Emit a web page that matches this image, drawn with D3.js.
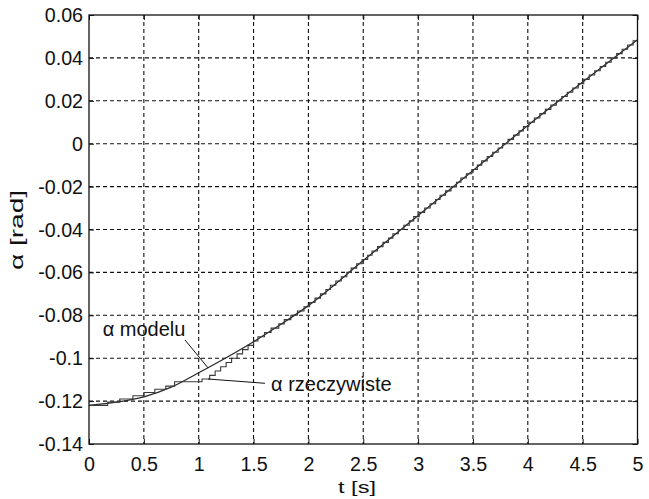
<!DOCTYPE html>
<html>
<head>
<meta charset="utf-8">
<script src="https://cdn.jsdelivr.net/npm/d3@7"></script>
<style>
  html, body { margin: 0; padding: 0; background: #fff; }
  svg { display: block; font-family: "Liberation Sans", Arial, Helvetica, sans-serif; }
</style>
</head>
<body>
<svg id="chart" width="649" height="499"></svg>
<script>
// ---- data ----
const xTicks = [0, 0.5, 1, 1.5, 2, 2.5, 3, 3.5, 4, 4.5, 5];
const xTickLabels = ["0", "0.5", "1", "1.5", "2", "2.5", "3", "3.5", "4", "4.5", "5"];
const yTicks = [0.06, 0.04, 0.02, 0, -0.02, -0.04, -0.06, -0.08, -0.1, -0.12, -0.14];
const yTickLabels = ["0.06", "0.04", "0.02", "0", "-0.02", "-0.04", "-0.06", "-0.08", "-0.1", "-0.12", "-0.14"];

// alpha modelu (smooth model curve)
const tModel = [0, 0.25, 0.5, 0.75, 1.0, 1.25, 1.5, 1.75, 2.0, 2.5, 3.0, 3.5, 4.0, 4.5, 5.0];
const alphaModel = [-0.1220, -0.1205, -0.1180, -0.1135, -0.1068, -0.0998, -0.0923, -0.0842, -0.0755,
                    -0.0545, -0.0335, -0.0125, 0.0085, 0.0288, 0.0485];

// alpha rzeczywiste (measured, staircase) — step times and levels
const tReal = [
  0, 0.17, 0.28, 0.40, 0.50, 0.60, 0.70, 0.78, 1.03, 1.10,
  1.15, 1.20, 1.25, 1.30, 1.35, 1.40, 1.45, 1.50, 1.54, 1.60,
  1.66, 1.73, 1.78, 1.84, 1.90, 1.96, 2.01, 2.06, 2.11, 2.16,
  2.20, 2.25, 2.30, 2.35, 2.39, 2.44, 2.49, 2.54, 2.58, 2.63,
  2.68, 2.73, 2.77, 2.82, 2.87, 2.92, 2.96, 3.01, 3.06, 3.11,
  3.16, 3.20, 3.25, 3.30, 3.35, 3.39, 3.44, 3.49, 3.54, 3.58,
  3.63, 3.68, 3.73, 3.77, 3.82, 3.87, 3.92, 3.96, 4.01, 4.06,
  4.11, 4.16, 4.21, 4.26, 4.31, 4.36, 4.41, 4.46, 4.51, 4.56,
  4.61, 4.66, 4.71, 4.76, 4.81, 4.86, 4.91, 4.96, 5.00
];
const alphaReal = [
  -0.1220, -0.1205, -0.1190, -0.1175, -0.1160, -0.1145, -0.1130, -0.1110, -0.1097, -0.1080,
  -0.106, -0.104, -0.102, -0.100, -0.098, -0.096, -0.094, -0.092, -0.090, -0.088,
  -0.086, -0.084, -0.082, -0.080, -0.078, -0.076, -0.074, -0.072, -0.070, -0.068,
  -0.066, -0.064, -0.062, -0.060, -0.058, -0.056, -0.054, -0.052, -0.050, -0.048,
  -0.046, -0.044, -0.042, -0.040, -0.038, -0.036, -0.034, -0.032, -0.030, -0.028,
  -0.026, -0.024, -0.022, -0.020, -0.018, -0.016, -0.014, -0.012, -0.010, -0.008,
  -0.006, -0.004, -0.002, 0.000, 0.002, 0.004, 0.006, 0.008, 0.010, 0.012,
  0.014, 0.016, 0.018, 0.020, 0.022, 0.024, 0.026, 0.028, 0.030, 0.032,
  0.034, 0.036, 0.038, 0.040, 0.042, 0.044, 0.046, 0.048, 0.048
];

// annotation texts and anchor points (data units)
const annoTexts = ["α modelu", "α rzeczywiste"];
const annoTextT = [0.125, 1.66];
const annoTextV = [-0.0897, -0.1153];
const annoLineFromT = [0.875, 1.085];
const annoLineFromV = [-0.0915, -0.1097];
const annoLineToT = [1.085, 1.604];
const annoLineToV = [-0.1045, -0.1117];

const xLabel = "t [s]";
const yLabel = "α [rad]";

// ---- layout ----
const svg = d3.select("#chart");
const W = 649, H = 499;
const L = 89, R = 637.5, T = 15, B = 444;
const x = d3.scaleLinear().domain([0, 5]).range([L, R]);
const y = d3.scaleLinear().domain([-0.14, 0.06]).range([B, T]);
const FONT = '"Liberation Sans", Arial, Helvetica, sans-serif';

svg.append("rect").attr("width", W).attr("height", H).attr("fill", "#fff");

// grid (dashed)
const grid = svg.append("g").attr("stroke", "#111").attr("stroke-width", 1.1)
  .attr("stroke-dasharray", "4,3").attr("fill", "none");
xTicks.filter(d => d > 0 && d < 5).forEach(d => {
  grid.append("line").attr("x1", x(d)).attr("x2", x(d)).attr("y1", T).attr("y2", B);
});
yTicks.filter(d => d > -0.14 && d < 0.06).forEach(d => {
  grid.append("line").attr("x1", L).attr("x2", R).attr("y1", y(d)).attr("y2", y(d));
});

// data lines
const modelLine = d3.line().x(d => x(d[0])).y(d => y(d[1])).curve(d3.curveMonotoneX);
svg.append("path")
  .datum(tModel.map((t, i) => [t, alphaModel[i]]))
  .attr("d", modelLine).attr("fill", "none").attr("stroke", "#2a2a2a").attr("stroke-width", 1.3);

const stepLine = d3.line().x(d => x(d[0])).y(d => y(d[1])).curve(d3.curveStepAfter);
svg.append("path")
  .datum(tReal.map((t, i) => [t, alphaReal[i]]))
  .attr("d", stepLine).attr("fill", "none").attr("stroke", "#3a3a3a").attr("stroke-width", 1.1);

// axes (ticks pointing inward, MATLAB style)
const fs = 20.5, sx = 0.96;
const yAxis = d3.axisLeft(y).tickValues(yTicks).tickSize(-5).tickPadding(0)
  .tickFormat((d, i) => yTickLabels[i]);
const gy = svg.append("g").attr("transform", `translate(${L},0)`).call(yAxis);
gy.attr("font-family", FONT);
gy.selectAll("text").attr("x", null).attr("transform", `translate(-6,0) scale(${sx},1)`)
  .attr("font-size", fs).attr("fill", "#111");

const xAxis = d3.axisBottom(x).tickValues(xTicks).tickSize(-5).tickPadding(0)
  .tickFormat((d, i) => xTickLabels[i]);
const gx = svg.append("g").attr("transform", `translate(0,${B})`).call(xAxis);
gx.attr("font-family", FONT);
gx.selectAll("text").attr("y", 27.5).attr("dy", null).attr("transform", `scale(${sx},1)`)
  .attr("font-size", fs).attr("fill", "#111");

const gt = svg.append("g").attr("transform", `translate(0,${T})`)
  .call(d3.axisTop(x).tickValues(xTicks).tickSize(-5).tickFormat(""));
const gr = svg.append("g").attr("transform", `translate(${R},0)`)
  .call(d3.axisRight(y).tickValues(yTicks).tickSize(-5).tickFormat(""));
[gx, gy, gt, gr].forEach(g => {
  g.select(".domain").remove();
  g.selectAll(".tick line").attr("stroke", "#111").attr("stroke-width", 1);
});

// frame
svg.append("rect").attr("x", L).attr("y", T).attr("width", R - L).attr("height", B - T)
  .attr("fill", "none").attr("stroke", "#111").attr("stroke-width", 1.3);

// annotations
annoTexts.forEach((txt, i) => {
  svg.append("line")
    .attr("x1", x(annoLineFromT[i])).attr("y1", y(annoLineFromV[i]))
    .attr("x2", x(annoLineToT[i])).attr("y2", y(annoLineToV[i]))
    .attr("stroke", "#111").attr("stroke-width", 1);
  svg.append("text").attr("x", x(annoTextT[i])).attr("y", y(annoTextV[i]))
    .attr("font-size", 20).attr("fill", "#111").text(txt);
});

// axis labels
svg.append("text").attr("x", 357).attr("y", 492.5).attr("text-anchor", "middle")
  .attr("font-size", 17).attr("fill", "#111")
  .attr("textLength", 38).attr("lengthAdjust", "spacingAndGlyphs").text(xLabel);
svg.append("text").attr("transform", "translate(22.5,230) rotate(-90)")
  .attr("text-anchor", "middle").attr("font-size", 18).attr("fill", "#111")
  .attr("textLength", 80).attr("lengthAdjust", "spacingAndGlyphs").text(yLabel);
</script>
</body>
</html>
